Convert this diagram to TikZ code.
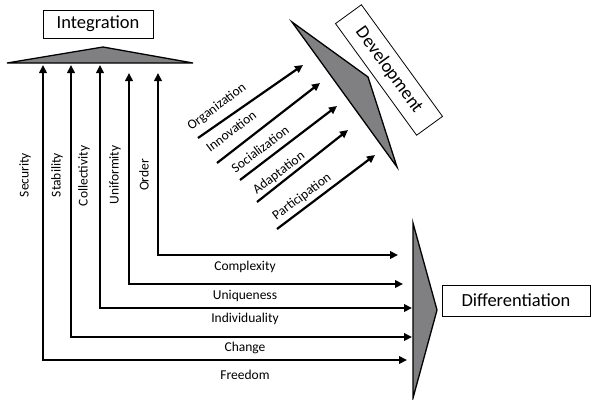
\documentclass[tikz,border=0pt]{standalone}
\usepackage{fontspec}
\setmainfont{Carlito}
\usetikzlibrary{arrows.meta}
\definecolor{shade}{RGB}{128,128,130}
\tikzset{
  flow/.style={line width=2.2pt,{Triangle[length=8pt,width=7.5pt]}-{Triangle[length=8pt,width=7.5pt]}},
  oneway/.style={line width=2.2pt,-{Triangle[length=8pt,width=7.5pt]}},
  wedge/.style={draw=black,line width=1.3pt,fill=shade,line join=miter},
  bigbox/.style={draw=black,line width=0.8pt,font=\fontsize{18.5}{20}\selectfont,inner sep=0pt},
  lab/.style={font=\fontsize{13.5}{15}\selectfont,inner sep=0pt}
}
\begin{document}
\begin{tikzpicture}[x=1pt,y=-1pt]
\useasboundingbox (0,0) rectangle (591,399);
% wedges
\draw[wedge] (7,63) -- (103,47) -- (193,63) -- cycle;
\draw[wedge] (413,223) -- (437,310) -- (413,398) -- cycle;
\draw[wedge] (292,22) -- (368,77) -- (397,167) -- cycle;
% boxes
\node[bigbox,minimum width=110pt,minimum height=28pt] (integ) at (98,24) {Integration};
\node[bigbox,minimum width=148pt,minimum height=31pt] (diff) at (516,300.5) {Differentiation};
\node[bigbox,minimum width=138pt,minimum height=32pt,rotate=-54] (dev) at (389,70) {Development};
% L-shaped arrows
\coordinate (secT) at (43,65);  \coordinate (secR) at (407,360);
\coordinate (staT) at (71,65);  \coordinate (staR) at (412,337);
\coordinate (colT) at (100,65); \coordinate (colR) at (412,308);
\coordinate (uniT) at (129,73); \coordinate (uniR) at (403,284);
\coordinate (ordT) at (158,73); \coordinate (ordR) at (398,255);
\draw[flow] (secR) -| (secT);
\draw[flow] (staR) -| (staT);
\draw[flow] (colR) -| (colT);
\draw[flow] (uniR) -| (uniT);
\draw[flow] (ordR) -| (ordT);
% vertical labels
\node[lab,rotate=90] (lsec) at (25,175) {Security};
\node[lab,rotate=90] (lsta) at (57,175) {Stability};
\node[lab,rotate=90] (lcol) at (84,176) {Collectivity};
\node[lab,rotate=90] (luni) at (115,175) {Uniformity};
\node[lab,rotate=90] (lord) at (144,175) {Order};
% horizontal labels
\node[lab] (lcom) at (245,267) {Complexity};
\node[lab] (luq) at (245,296) {Uniqueness};
\node[lab] (lind) at (245,319) {Individuality};
\node[lab] (lcha) at (245,348) {Change};
\node[lab] (lfre) at (245,375) {Freedom};
% diagonal arrows
\coordinate (orgS) at (198,138); \coordinate (orgE) at (303,65);
\coordinate (innS) at (217,163); \coordinate (innE) at (320,83);
\coordinate (socS) at (240,180); \coordinate (socE) at (337,106);
\coordinate (adaS) at (257,202); \coordinate (adaE) at (348,130);
\coordinate (parS) at (277,229); \coordinate (parE) at (375,155);
\draw[oneway] (orgS) -- (orgE);
\draw[oneway] (innS) -- (innE);
\draw[oneway] (socS) -- (socE);
\draw[oneway] (adaS) -- (adaE);
\draw[oneway] (parS) -- (parE);
% diagonal labels
\node[lab,rotate=37] (lorg) at (217,107) {Organization};
\node[lab,rotate=37] (linn) at (231,131) {Innovation};
\node[lab,rotate=37] (lsoc) at (260,149) {Socialization};
\node[lab,rotate=37] (lada) at (279,173) {Adaptation};
\node[lab,rotate=37] (lpar) at (302,197) {Participation};
\end{tikzpicture}
\end{document}
